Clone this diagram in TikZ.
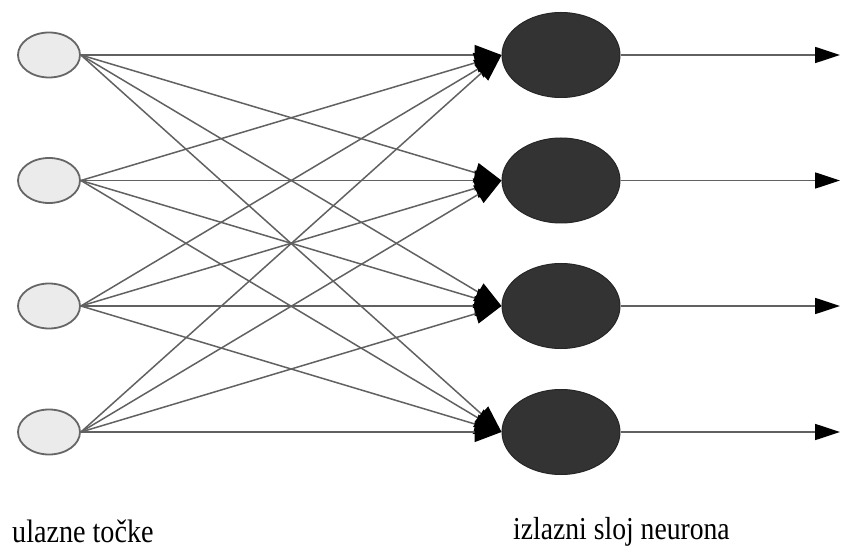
\documentclass[tikz,border=0pt]{standalone}
\usepackage{fontspec}
\setmainfont{Liberation Serif}
\usetikzlibrary{shapes.geometric,arrows.meta}
\begin{document}
\begin{tikzpicture}[x=1pt,y=1pt,
  innode/.style={ellipse,draw=black!60,line width=1.8pt,fill=black!8,minimum width=62pt,minimum height=45pt,inner sep=0pt},
  outnode/.style={ellipse,draw=black!85,line width=1pt,fill=black!80,minimum width=118pt,minimum height=85pt,inner sep=0pt},
  link/.style={draw=black!62,line width=1.5pt,-{Triangle[length=27pt,width=20pt,color=black]}},
  outlink/.style={draw=black!62,line width=1.7pt,-{Triangle[length=25pt,width=16pt,color=black]}},
  lbl/.style={inner sep=0pt,anchor=base west}]
\useasboundingbox (0,0) rectangle (842,549);
\foreach \k/\y in {1/494,2/368.5,3/243,4/117}{
  \node[innode] (i\k) at (49,\y) {};
  \node[outnode] (o\k) at (561,\y) {};
  \coordinate (e\k) at (840,\y);
}
\foreach \a in {1,2,3,4}{
  \foreach \b in {1,2,3,4}{
    \draw[link] (i\a.east) -- (o\b.west);
  }
}
\foreach \k in {1,2,3,4}{
  \draw[outlink] (o\k.east) -- (e\k);
}
\node[lbl] (t1) at (12,7) {\scalebox{0.97}[1.12]{\fontsize{29}{31}\selectfont ulazne točke}};
\node[lbl] (t2) at (513,10) {\scalebox{0.97}[1.12]{\fontsize{28.5}{31}\selectfont izlazni sloj neurona}};
\end{tikzpicture}
\end{document}
